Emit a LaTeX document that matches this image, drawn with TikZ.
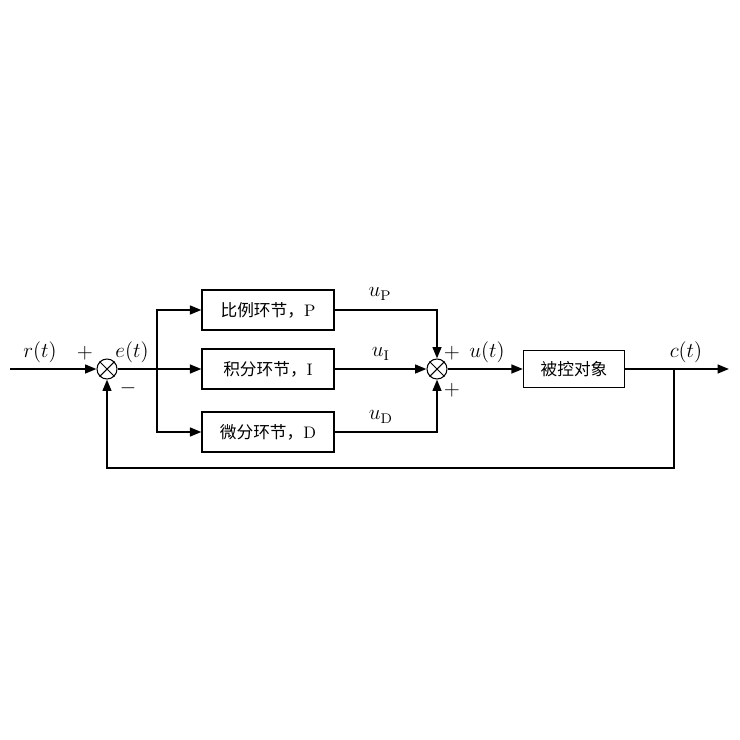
\documentclass[tikz,border=0pt]{standalone}
\usepackage{fontspec}
\newfontfamily\cjk{Noto Sans CJK SC}
\usetikzlibrary{arrows.meta, positioning}

\tikzset{
  block/.style={draw, line width=0.7pt, minimum width=2.64cm, minimum height=0.8cm,
    inner sep=1pt, font=\fontsize{9.5}{11}\selectfont},
  plant/.style={block, minimum width=2.02cm, minimum height=0.74cm},
  sumnode/.style={draw, circle, line width=0.6pt, minimum size=0.4cm, inner sep=0pt},
  sig/.style={->, line width=1.1pt},
  wire/.style={line width=1.1pt},
  lab/.style={font=\large, inner sep=0pt},
}

\begin{document}
\begin{tikzpicture}[>={Triangle[length=6.5pt,width=5pt]}, x=0.02cm, y=-0.02cm]
  \useasboundingbox (0,0) rectangle (740,740);
  % summing points
  \node[sumnode] (s1) at (107,369) {};
  \draw[line width=0.6pt] (s1.north east)--(s1.south west) (s1.north west)--(s1.south east);
  \node[sumnode] (s2) at (437,369) {};
  \draw[line width=0.6pt] (s2.north east)--(s2.south west) (s2.north west)--(s2.south east);
  % blocks
  \node[block] (p) at (268,310) {{\cjk 比例环节，}P};
  \node[block] (i) at (268,369) {{\cjk 积分环节，}I};
  \node[block] (d) at (268,432) {{\cjk 微分环节，}D};
  \node[plant] (g) at (574,369) {\cjk 被控对象};
  % helper points
  \coordinate (in) at (10,369);
  \coordinate (br) at (157,369);
  \coordinate (tap) at (674,369);
  \coordinate (fb) at (674,468);
  \coordinate (out) at (729,369);
  % connections
  \draw[sig] (in) -- (s1);
  \draw[wire] (s1) -- (br);
  \draw[sig] (br) |- (p);
  \draw[sig] (br) -- (i);
  \draw[sig] (br) |- (d);
  \draw[sig] (p) -| (s2);
  \draw[sig] (i) -- (s2);
  \draw[sig] (d) -| (s2);
  \draw[sig] (s2) -- (g);
  \draw[sig] (g) -- (out);
  \draw[sig] (tap) -- (fb) -| (s1);
  % labels
  \node[lab] (rl) at (40,352) {$r(t)$};
  \node[lab] (pl1) at (85,353) {$+$};
  \node[lab] (el) at (132,352) {$e(t)$};
  \node[lab] (ml) at (128,388) {$-$};
  \node[lab] (upl) at (380,294) {$u_{\mathrm{P}}$};
  \node[lab] (uil) at (381,354) {$u_{\mathrm{I}}$};
  \node[lab] (udl) at (381,417) {$u_{\mathrm{D}}$};
  \node[lab] (pl2) at (452,353) {$+$};
  \node[lab] (ul) at (487,352) {$u(t)$};
  \node[lab] (pl3) at (452,390) {$+$};
  \node[lab] (cl) at (686,352) {$c(t)$};
\end{tikzpicture}
\end{document}
